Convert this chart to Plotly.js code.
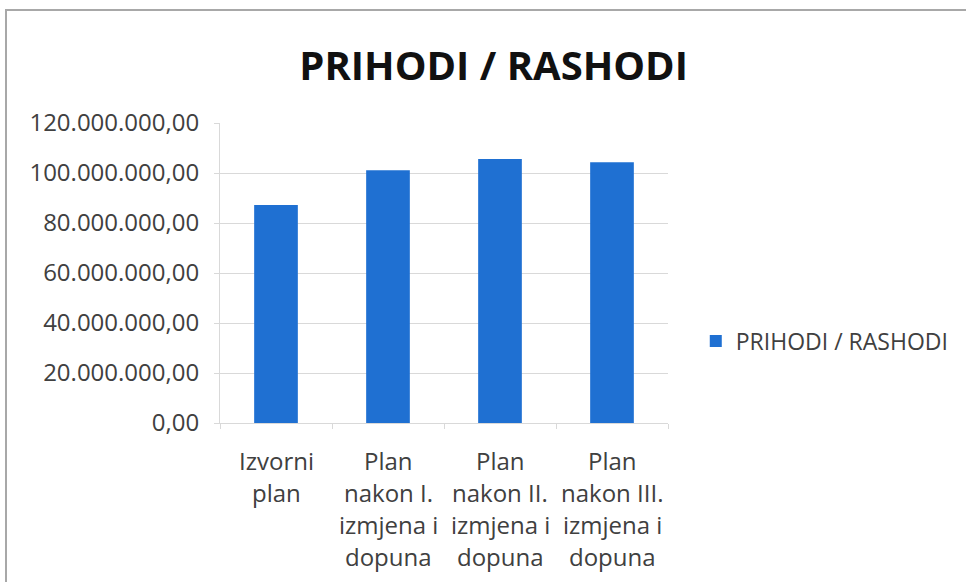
<!DOCTYPE html>
<html>
<head>
<meta charset="utf-8">
<script src="https://cdn.plot.ly/plotly-3.0.1.min.js"></script>
<style>
  html, body { margin: 0; padding: 0; background: #fff; overflow: hidden; }
  #frame { position: absolute; left: 5px; top: 9px; width: 1000px; height: 600px;
           border-top: 2px solid #a8a8a8; border-left: 2px solid #a8a8a8; }
  #chart { position: absolute; left: 0; top: 0; width: 966px; height: 582px; }
</style>
</head>
<body>
<div id="frame"></div>
<div id="chart"></div>
<script>
const categories = ["Izvorni plan", "Plan nakon I. izmjena i dopuna", "Plan nakon II. izmjena i dopuna", "Plan nakon III. izmjena i dopuna"];
const tickLabelLines = [
  ["Izvorni", "plan"],
  ["Plan", "nakon I.", "izmjena i", "dopuna"],
  ["Plan", "nakon II.", "izmjena i", "dopuna"],
  ["Plan", "nakon III.", "izmjena i", "dopuna"]
];
const values = [87200000, 101100000, 105600000, 104300000];
const yTicks = [0, 20000000, 40000000, 60000000, 80000000, 100000000, 120000000];
const seriesName = "PRIHODI / RASHODI";
const chartTitle = "PRIHODI / RASHODI";

const font = "'Open Sans', Lato, sans-serif";

// category labels, one annotation per line (for Excel-like line spacing)
const annotations = [];
tickLabelLines.forEach((lines, i) => {
  lines.forEach((line, j) => {
    annotations.push({
      xref: "x", yref: "paper",
      x: categories[i], y: 0,
      yshift: -(37 + j * 32),
      xanchor: "center", yanchor: "middle",
      text: line, showarrow: false,
      font: { family: font, size: 24, color: "#404040" }
    });
  });
});

Plotly.newPlot("chart", [{
  type: "bar",
  x: categories,
  y: values,
  name: seriesName,
  marker: { color: "#1F70D2" },
  showlegend: true,
  hoverinfo: "y"
}], {
  width: 966, height: 582,
  paper_bgcolor: "rgba(0,0,0,0)",
  plot_bgcolor: "rgba(0,0,0,0)",
  separators: ",.",
  margin: { l: 220, r: 298, t: 123, b: 159 },
  bargap: 0.61,
  annotations: annotations,
  title: {
    text: "<b>" + chartTitle + "</b>",
    font: { family: font, size: 40, color: "#111" },
    x: 0.511, xanchor: "center",
    y: 0.887, yanchor: "middle"
  },
  xaxis: {
    type: "category",
    tickson: "boundaries",
    ticks: "outside",
    ticklen: 5,
    tickcolor: "#d9d9d9",
    showline: true,
    linecolor: "#d9d9d9",
    linewidth: 1,
    showgrid: false,
    showticklabels: false
  },
  yaxis: {
    range: [0, 120000000],
    tickvals: yTicks,
    tickformat: ",.2f",
    ticks: "outside",
    ticklen: 5,
    tickcolor: "#d9d9d9",
    showline: true,
    linecolor: "#d9d9d9",
    showgrid: true,
    gridcolor: "#d9d9d9",
    zeroline: false,
    tickfont: { family: font, size: 24, color: "#404040" },
    ticklabelstandoff: 10
  },
  legend: {
    x: 1.062, xanchor: "left",
    y: 0.273, yanchor: "middle",
    font: { family: font, size: 23, color: "#404040" },
    itemwidth: 30
  }
}, { displayModeBar: false, staticPlot: true });
</script>
</body>
</html>
